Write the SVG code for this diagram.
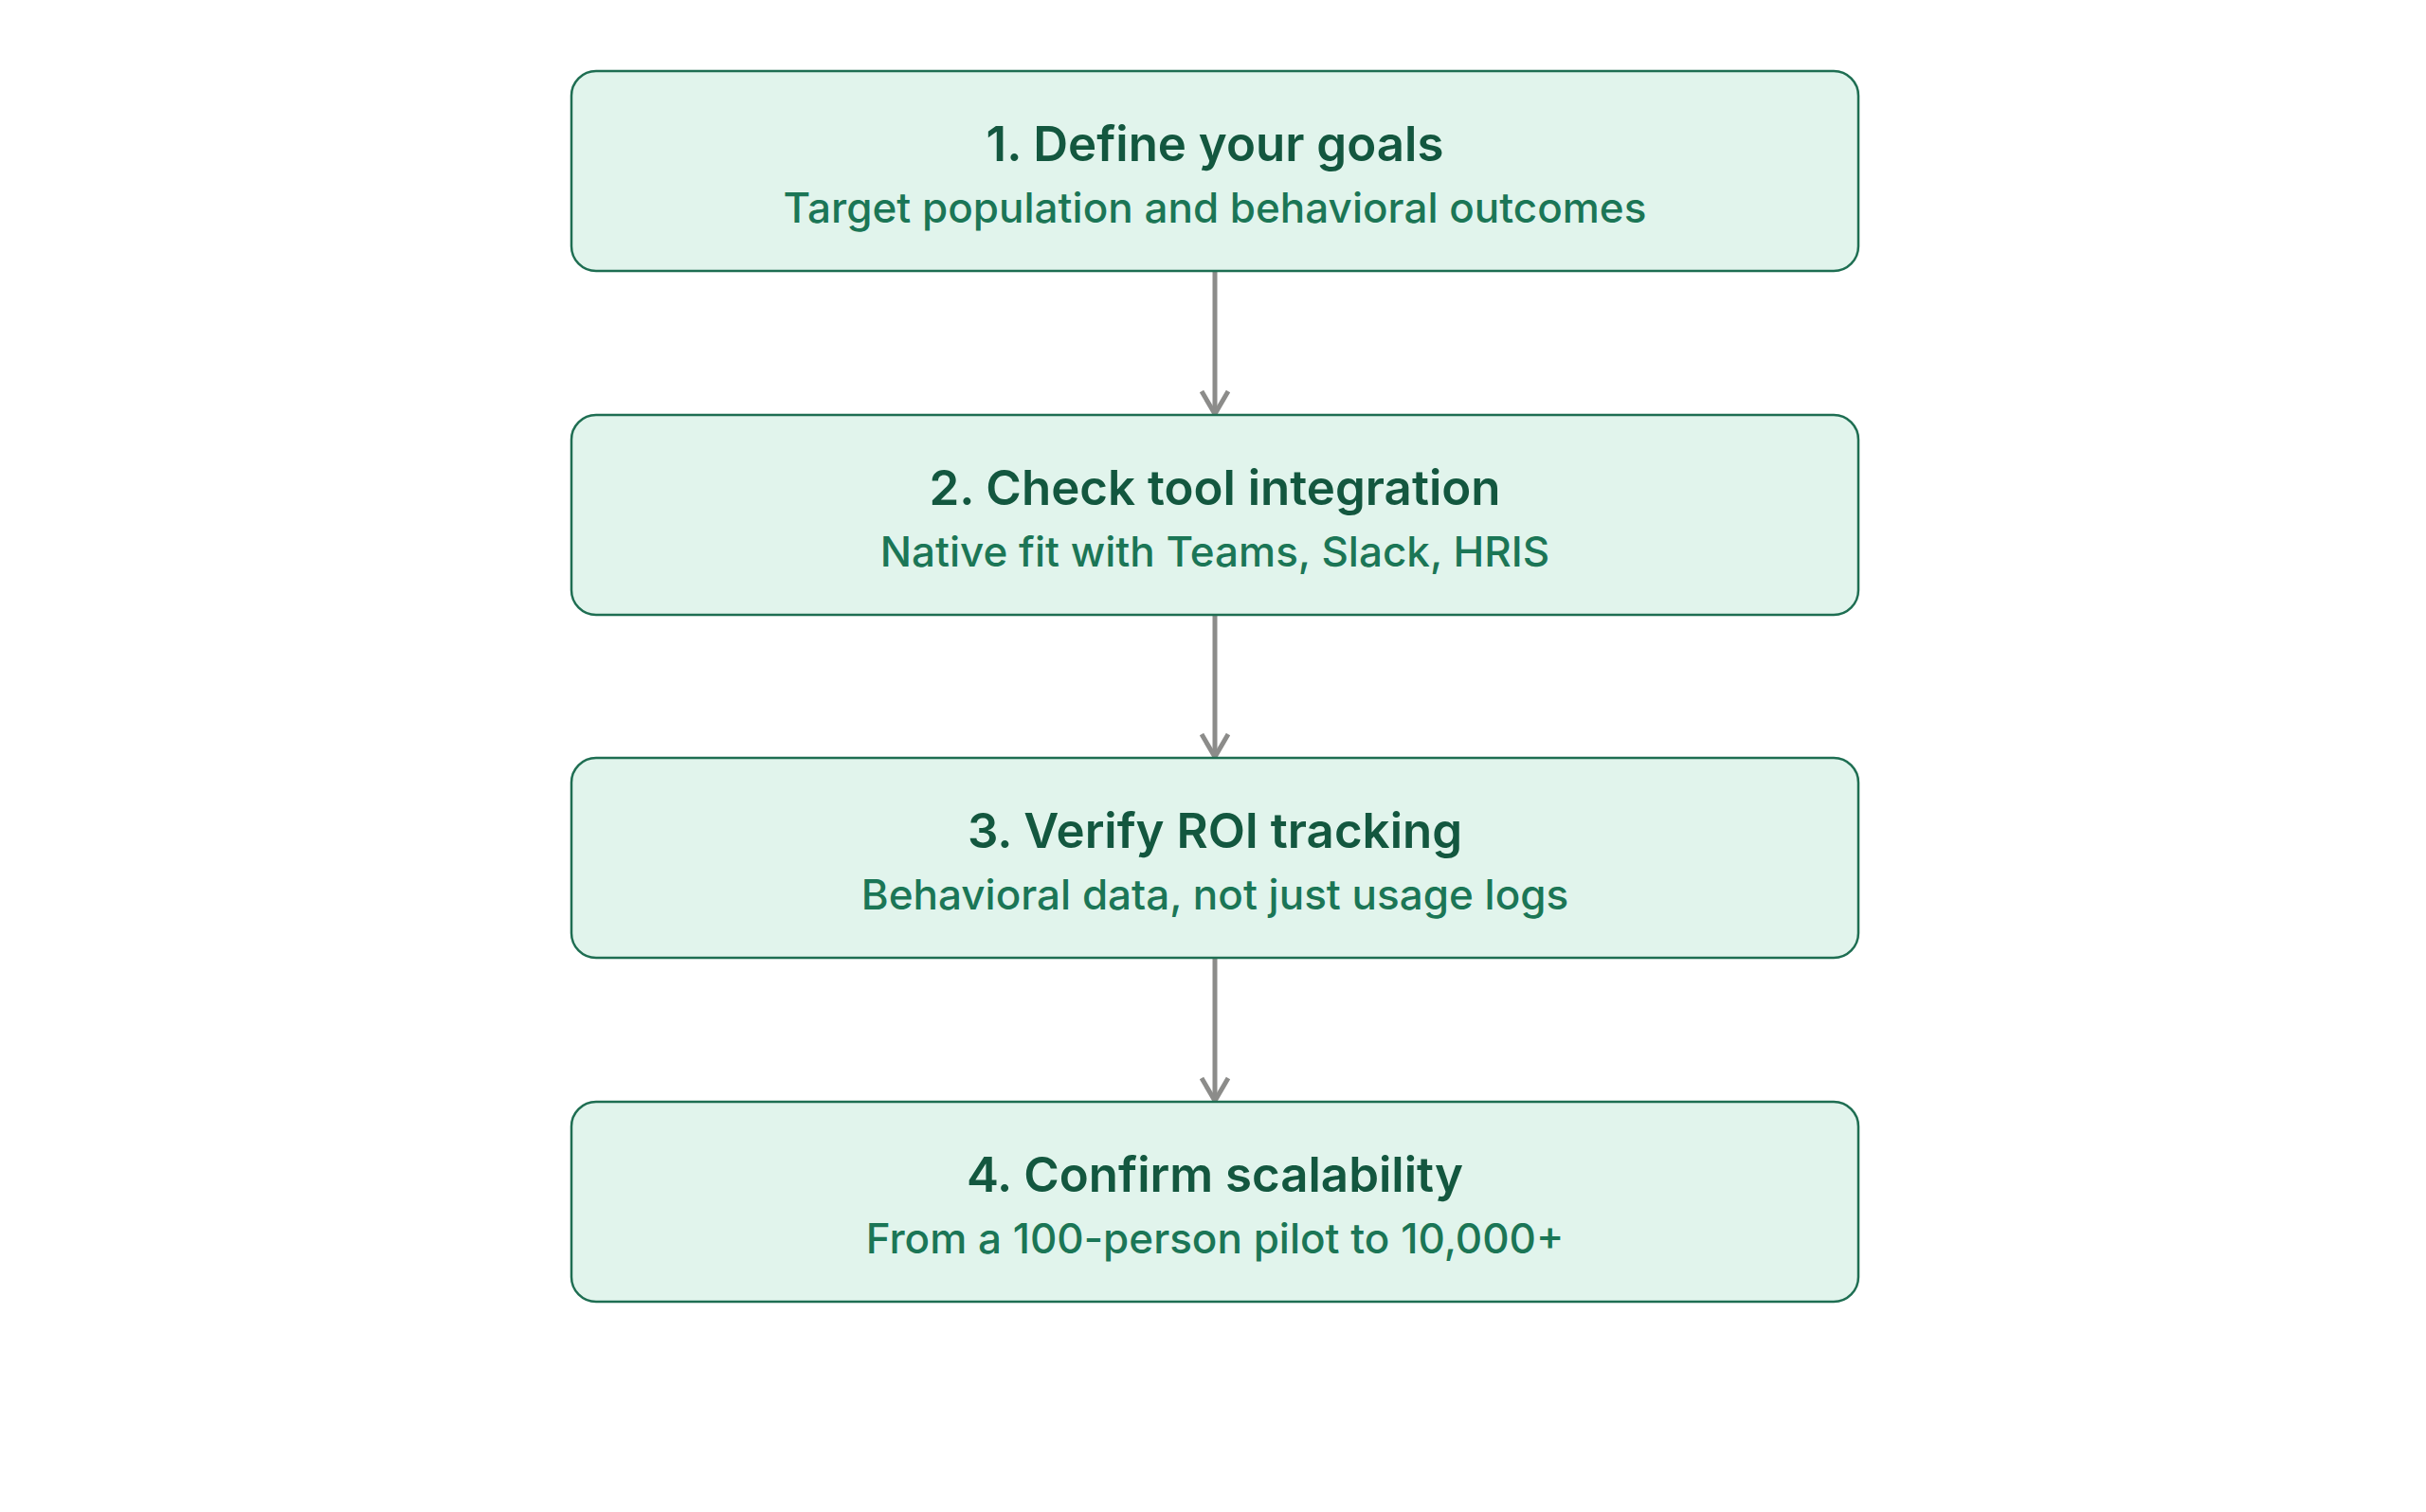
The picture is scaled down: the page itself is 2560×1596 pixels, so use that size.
<svg xmlns="http://www.w3.org/2000/svg" width="2560" height="1596" viewBox="0 0 2560 1596">
<style>
.box{fill:#e1f4ec;stroke:#1e6e52;stroke-width:2.5}
.t{font-family:Inter,"Noto Sans",sans-serif;font-weight:600;font-size:51px;fill:#13573f;text-anchor:middle}
.s{font-family:Inter,"Noto Sans",sans-serif;font-weight:500;font-size:44px;fill:#1b7656;text-anchor:middle}
.c{stroke:#8c8c8a;stroke-width:5;fill:none}
</style>
<defs><marker id="a" viewBox="0 0 30 34" refX="28" refY="17" markerWidth="30" markerHeight="34" markerUnits="userSpaceOnUse" orient="auto"><path d="M3,3 L27,17 L3,31" fill="none" stroke="#8c8c8a" stroke-width="5"/></marker></defs>
<rect width="2560" height="1596" fill="#fff"/>
<g id="connectors">
<line class="c" x1="1282" y1="286" x2="1282" y2="438" marker-end="url(#a)"/>
<line class="c" x1="1282" y1="649" x2="1282" y2="800" marker-end="url(#a)"/>
<line class="c" x1="1282" y1="1011" x2="1282" y2="1163" marker-end="url(#a)"/>
</g>
<g id="n1"><rect class="box" x="603" y="75" width="1358" height="211" rx="26"/><text class="t" x="1282" y="170">1. Define your goals</text><text class="s" x="1282" y="235">Target population and behavioral outcomes</text></g>
<g id="n2"><rect class="box" x="603" y="438" width="1358" height="211" rx="26"/><text class="t" x="1282" y="533">2. Check tool integration</text><text class="s" x="1282" y="598">Native fit with Teams, Slack, HRIS</text></g>
<g id="n3"><rect class="box" x="603" y="800" width="1358" height="211" rx="26"/><text class="t" x="1282" y="895">3. Verify ROI tracking</text><text class="s" x="1282" y="960">Behavioral data, not just usage logs</text></g>
<g id="n4"><rect class="box" x="603" y="1163" width="1358" height="211" rx="26"/><text class="t" x="1282" y="1258">4. Confirm scalability</text><text class="s" x="1282" y="1323">From a 100-person pilot to 10,000+</text></g>
</svg>
